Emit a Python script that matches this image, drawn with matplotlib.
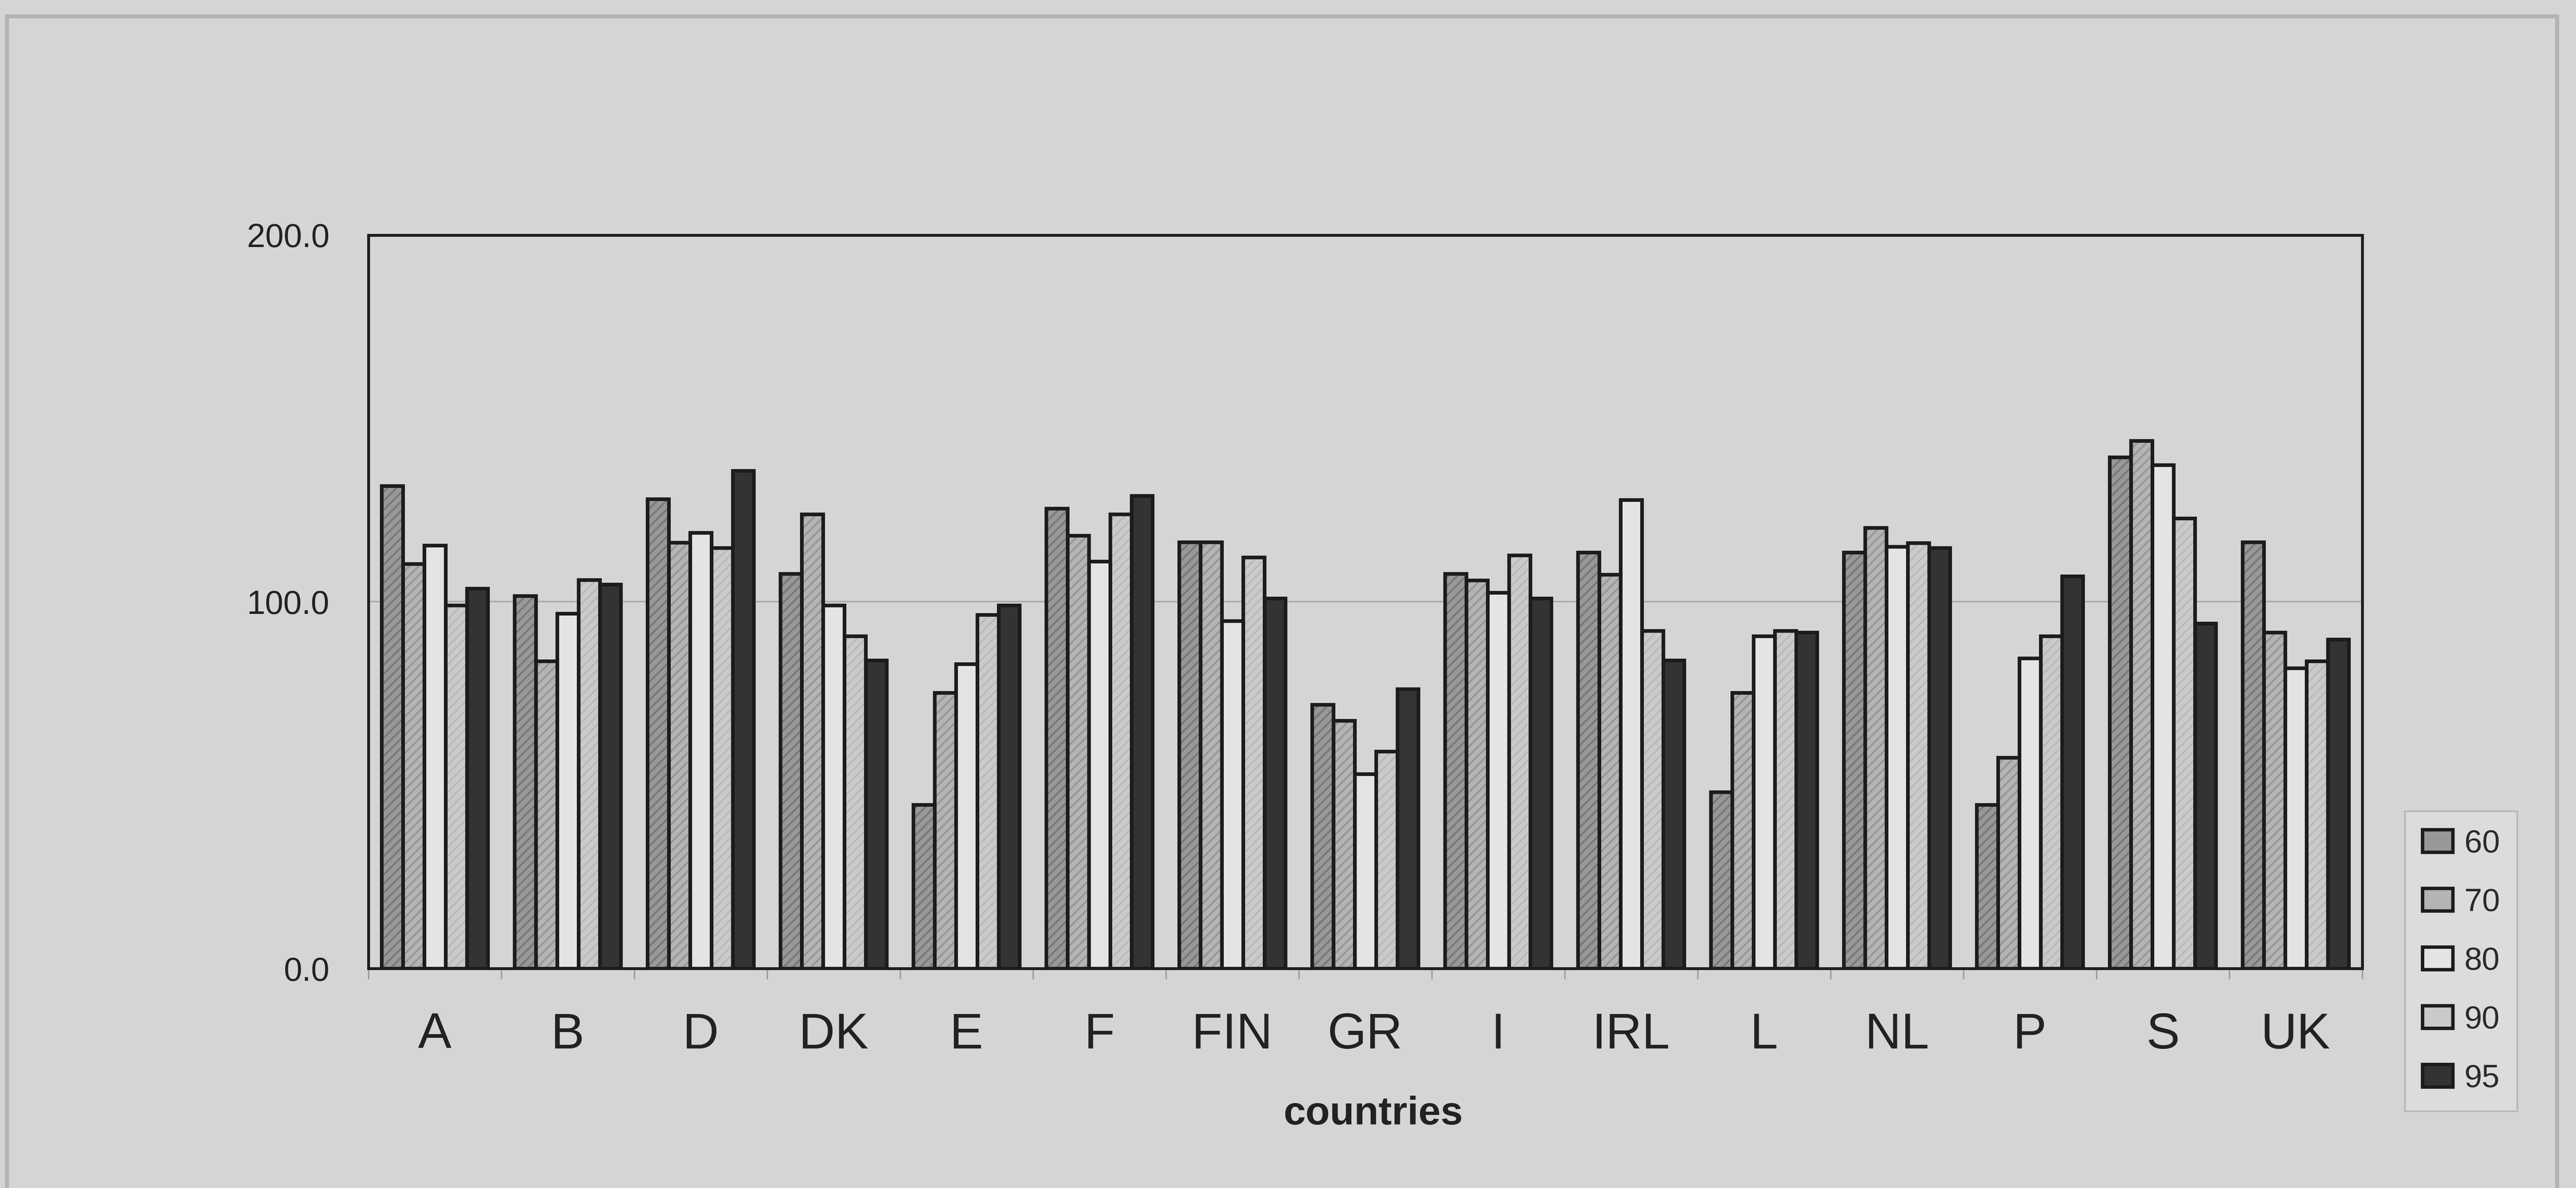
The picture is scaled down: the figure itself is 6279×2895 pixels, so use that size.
import numpy as np
import matplotlib
matplotlib.use("Agg")
import matplotlib.pyplot as plt
from matplotlib.patches import Patch
from matplotlib.lines import Line2D

plt.rcParams['font.family'] = ['Liberation Sans', 'DejaVu Sans']
plt.rcParams['hatch.linewidth'] = 1.6

countries = ['A', 'B', 'D', 'DK', 'E', 'F', 'FIN', 'GR', 'I', 'IRL', 'L', 'NL', 'P', 'S', 'UK']
years = ['60', '70', '80', '90', '95']

v60 = [131.6, 101.6, 128.0, 107.7, 44.7, 125.5, 116.3, 72.0, 107.7, 113.5, 48.1, 113.5, 44.7, 139.5, 116.3]
v70 = [110.4, 83.8, 116.2, 123.9, 75.2, 118.1, 116.3, 67.6, 105.9, 107.4, 75.2, 120.2, 57.5, 143.9, 91.7]
v80 = [115.4, 96.8, 118.9, 99.1, 83.0, 111.0, 94.8, 53.1, 102.5, 127.8, 90.6, 115.1, 84.6, 137.3, 81.9]
v90 = [99.1, 106.0, 114.7, 90.7, 96.5, 123.9, 112.1, 59.2, 112.7, 92.1, 92.1, 116.0, 90.7, 122.8, 83.8]
v95 = [103.6, 104.7, 135.7, 84.0, 99.1, 128.9, 100.9, 76.2, 100.9, 84.0, 91.7, 114.7, 107.0, 94.1, 89.8]
series = [v60, v70, v80, v90, v95]

# fill colour, hatch colour, hatch pattern for each year
faces = ['#989898', '#b4b4b4', '#e4e4e4', '#cacaca', '#333333']
hatch_cols = ['#787878', '#979797', '#e4e4e4', '#bababa', '#333333']
hatches = ['///', '///', '', '///', '']

bg = '#d5d5d5'
fig = plt.figure(figsize=(6279 / 200, 2895 / 200), dpi=200, facecolor=bg)
ax = fig.add_axes([0.1430, 0.1848, 0.9170 - 0.1430, 0.8021 - 0.1848])
ax.set_facecolor(bg)

x = np.arange(len(countries))
w = 0.16
for j, vals in enumerate(series):
    pos = x + (j - 2) * w
    # hatched fill first, then the black outline on top
    ax.bar(pos, vals, w, color=faces[j], edgecolor=hatch_cols[j], hatch=hatches[j],
           linewidth=0, zorder=2)
    ax.bar(pos, vals, w, fill=False, edgecolor='#1c1c1c', linewidth=3.2, zorder=3)

ax.set_xlim(-0.5, len(countries) - 0.5)
ax.set_ylim(0, 200)
ax.axhline(100, color='#a9a9a9', linewidth=1.3, zorder=1)

ax.set_yticks([0, 100, 200])
ax.set_yticklabels(['%.1f' % v for v in [0, 100, 200]])
ax.tick_params(axis='y', length=0, pad=34, labelsize=29, colors='#222222')

ax.set_xticks(x)
ax.set_xticklabels(countries)
ax.set_xticks(np.arange(-0.5, len(countries), 1), minor=True)
ax.tick_params(axis='x', which='major', length=0, pad=38, labelsize=44, colors='#222222')
ax.tick_params(axis='x', which='minor', length=9.5, width=1.2, direction='out', color='#9a9a9a')

for s in ax.spines.values():
    s.set_linewidth(2.5)
    s.set_color('#1e1e1e')

fig.text(0.533, 1 - 2740 / 2895, 'countries', ha='center', va='baseline',
         fontsize=35, fontweight='bold', color='#222222')

handles = [Patch(facecolor=faces[j], edgecolor='#1c1c1c', linewidth=3.0) for j in range(len(years))]
leg = fig.legend(handles, years, loc='upper left', bbox_to_anchor=(5862 / 6279, 1 - 1977 / 2895),
                 bbox_transform=fig.transFigure, borderaxespad=0, fontsize=28,
                 handlelength=0.96, handleheight=0.72, handletextpad=0.35,
                 labelspacing=0.9, borderpad=0.55, fancybox=False, framealpha=1)
leg.get_frame().set_facecolor('#dcdcdc')
leg.get_frame().set_edgecolor('#b8b8b8')
leg.get_frame().set_linewidth(1.5)
for t in leg.get_texts():
    t.set_color('#2a2a2a')

# page border around the figure
border = dict(transform=fig.transFigure, color='#b3b3b3', linewidth=3.5)
fig.add_artist(Line2D([17 / 6279, 17 / 6279], [0, 1 - 40 / 2895], **border))
fig.add_artist(Line2D([17 / 6279, 6233 / 6279], [1 - 40 / 2895, 1 - 40 / 2895], **border))
fig.add_artist(Line2D([6233 / 6279, 6233 / 6279], [0, 1 - 40 / 2895], **border))

fig.savefig('out.png', dpi=200, facecolor=bg)
